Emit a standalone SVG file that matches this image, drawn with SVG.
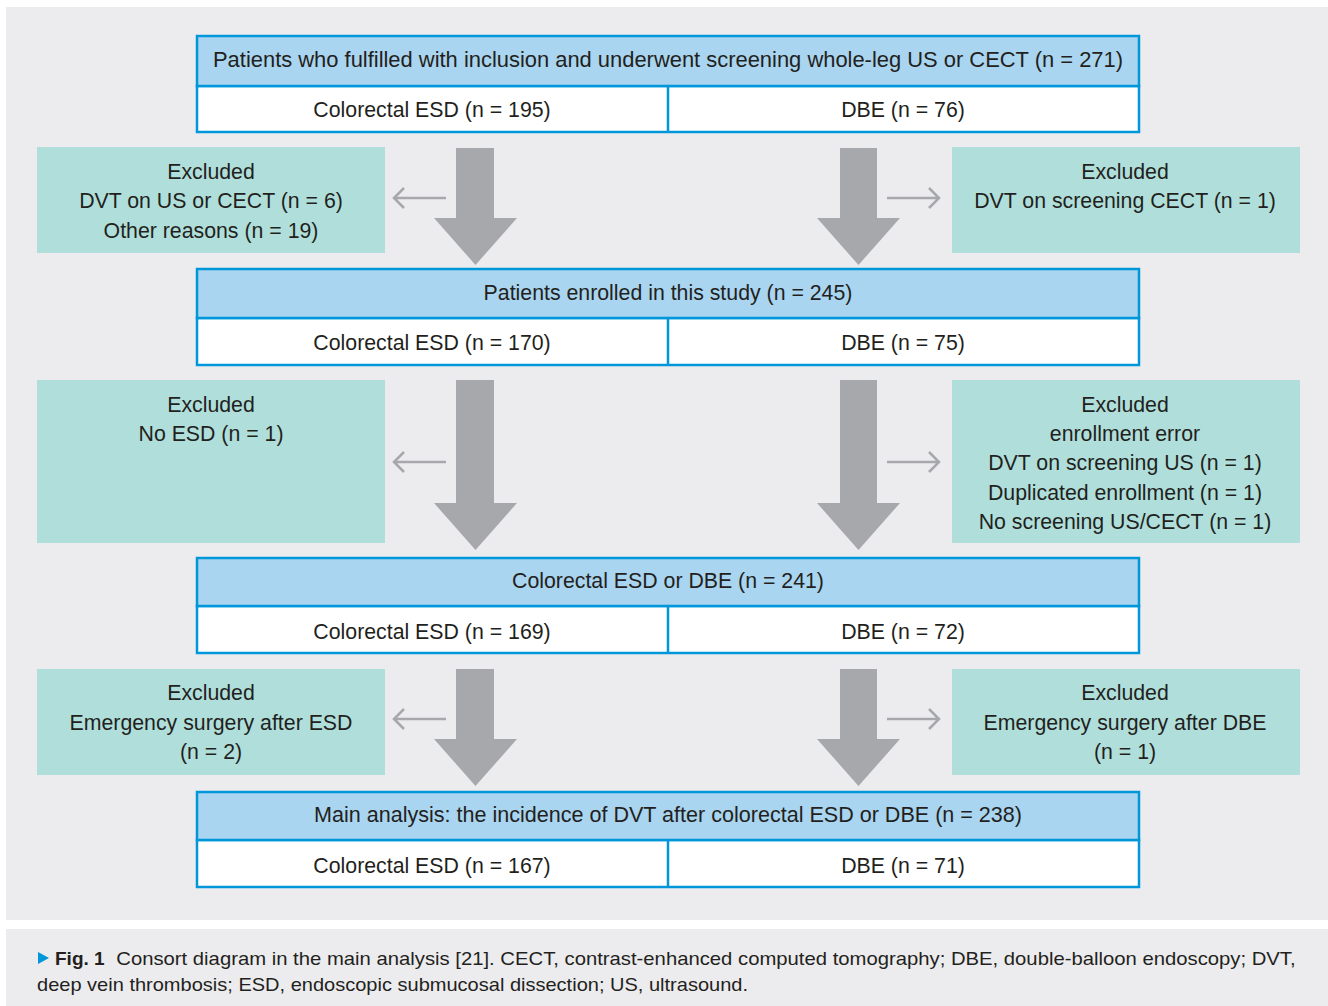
<svg xmlns="http://www.w3.org/2000/svg" width="1328" height="1006" viewBox="0 0 1328 1006">
<style>
text{font-family:"Liberation Sans",Arial,sans-serif;font-size:21.3px;fill:#231f20;text-anchor:middle}
.hdr{fill:#a9d5f0;stroke:#0096da;stroke-width:2.5}
.row{fill:#ffffff;stroke:#0096da;stroke-width:2.5}
.exc{fill:#b0dfdb}
.big{fill:#a7a8ab}
.sm{fill:none;stroke:#a7a8ab;stroke-width:2.5}
.cap{font-size:19px;text-anchor:start}
</style>
<rect x="0" y="0" width="1328" height="1006" fill="#ffffff"/>
<rect x="6" y="7" width="1322" height="913" fill="#ececee"/>
<rect x="6" y="929" width="1322" height="77" fill="#ececee"/>

<g id="connectors">
<polygon class="big" points="456,148 494,148 494,218 517,218 475.5,265 434,218 456,218"/>
<polygon class="big" points="840,148 877,148 877,218 900,218 858.5,265 817,218 840,218"/>
<polygon class="big" points="456,380 494,380 494,503 517,503 475.5,550 434,503 456,503"/>
<polygon class="big" points="840,380 877,380 877,503 900,503 858.5,550 817,503 840,503"/>
<polygon class="big" points="456,669 494,669 494,739 517,739 475.5,786 434,739 456,739"/>
<polygon class="big" points="840,669 877,669 877,739 900,739 858.5,786 817,739 840,739"/>
<path class="sm" d="M446,198H394M404,188L394,198L404,208"/>
<path class="sm" d="M887,198H939M929,188L939,198L929,208"/>
<path class="sm" d="M446,462H394M404,452L394,462L404,472"/>
<path class="sm" d="M887,462H939M929,452L939,462L929,472"/>
<path class="sm" d="M446,719H394M404,709L394,719L404,729"/>
<path class="sm" d="M887,719H939M929,709L939,719L929,729"/>
</g>

<g id="box1">
<rect class="row" x="197" y="86" width="942" height="46"/>
<rect class="hdr" x="197" y="36" width="942" height="50"/>
<line x1="668" y1="86" x2="668" y2="132" stroke="#0096da" stroke-width="2.5"/>
<text x="668" y="67" textLength="910" lengthAdjust="spacingAndGlyphs">Patients who fulfilled with inclusion and underwent screening whole-leg US or CECT (n = 271)</text>
<text x="432" y="117">Colorectal ESD (n = 195)</text>
<text x="903" y="117">DBE (n = 76)</text>
</g>

<g id="excl1L">
<rect class="exc" x="37" y="147" width="348" height="106"/>
<text x="211" y="179">Excluded</text>
<text x="211" y="208">DVT on US or CECT (n = 6)</text>
<text x="211" y="238">Other reasons (n = 19)</text>
</g>
<g id="excl1R">
<rect class="exc" x="952" y="147" width="348" height="106"/>
<text x="1125" y="179">Excluded</text>
<text x="1125" y="208">DVT on screening CECT (n = 1)</text>
</g>

<g id="box2">
<rect class="row" x="197" y="318" width="942" height="47"/>
<rect class="hdr" x="197" y="269" width="942" height="49"/>
<line x1="668" y1="318" x2="668" y2="365" stroke="#0096da" stroke-width="2.5"/>
<text x="668" y="300">Patients enrolled in this study (n = 245)</text>
<text x="432" y="350">Colorectal ESD (n = 170)</text>
<text x="903" y="350">DBE (n = 75)</text>
</g>

<g id="excl2L">
<rect class="exc" x="37" y="380" width="348" height="163"/>
<text x="211" y="412">Excluded</text>
<text x="211" y="441">No ESD (n = 1)</text>
</g>
<g id="excl2R">
<rect class="exc" x="952" y="380" width="348" height="163"/>
<text x="1125" y="412">Excluded</text>
<text x="1125" y="441">enrollment error</text>
<text x="1125" y="470">DVT on screening US (n = 1)</text>
<text x="1125" y="500">Duplicated enrollment (n = 1)</text>
<text x="1125" y="529">No screening US/CECT (n = 1)</text>
</g>

<g id="box3">
<rect class="row" x="197" y="606" width="942" height="47"/>
<rect class="hdr" x="197" y="558" width="942" height="48"/>
<line x1="668" y1="606" x2="668" y2="653" stroke="#0096da" stroke-width="2.5"/>
<text x="668" y="588">Colorectal ESD or DBE (n = 241)</text>
<text x="432" y="639">Colorectal ESD (n = 169)</text>
<text x="903" y="639">DBE (n = 72)</text>
</g>

<g id="excl3L">
<rect class="exc" x="37" y="669" width="348" height="106"/>
<text x="211" y="700">Excluded</text>
<text x="211" y="730">Emergency surgery after ESD</text>
<text x="211" y="759">(n = 2)</text>
</g>
<g id="excl3R">
<rect class="exc" x="952" y="669" width="348" height="106"/>
<text x="1125" y="700">Excluded</text>
<text x="1125" y="730">Emergency surgery after DBE</text>
<text x="1125" y="759">(n = 1)</text>
</g>

<g id="box4">
<rect class="row" x="197" y="840" width="942" height="47"/>
<rect class="hdr" x="197" y="792" width="942" height="48"/>
<line x1="668" y1="840" x2="668" y2="887" stroke="#0096da" stroke-width="2.5"/>
<text x="668" y="822" textLength="708" lengthAdjust="spacingAndGlyphs">Main analysis: the incidence of DVT after colorectal ESD or DBE (n = 238)</text>
<text x="432" y="873">Colorectal ESD (n = 167)</text>
<text x="903" y="873">DBE (n = 71)</text>
</g>

<g id="caption">
<polygon points="38,952 38,964 49,958" fill="#0096da"/>
<text class="cap" x="55" y="965"><tspan font-weight="bold">Fig. 1</tspan><tspan dx="6" textLength="1185" lengthAdjust="spacingAndGlyphs"> Consort diagram in the main analysis [21]. CECT, contrast-enhanced computed tomography; DBE, double-balloon endoscopy; DVT,</tspan></text>
<text class="cap" x="37" y="991" textLength="711" lengthAdjust="spacingAndGlyphs">deep vein thrombosis; ESD, endoscopic submucosal dissection; US, ultrasound.</text>
</g>
</svg>
